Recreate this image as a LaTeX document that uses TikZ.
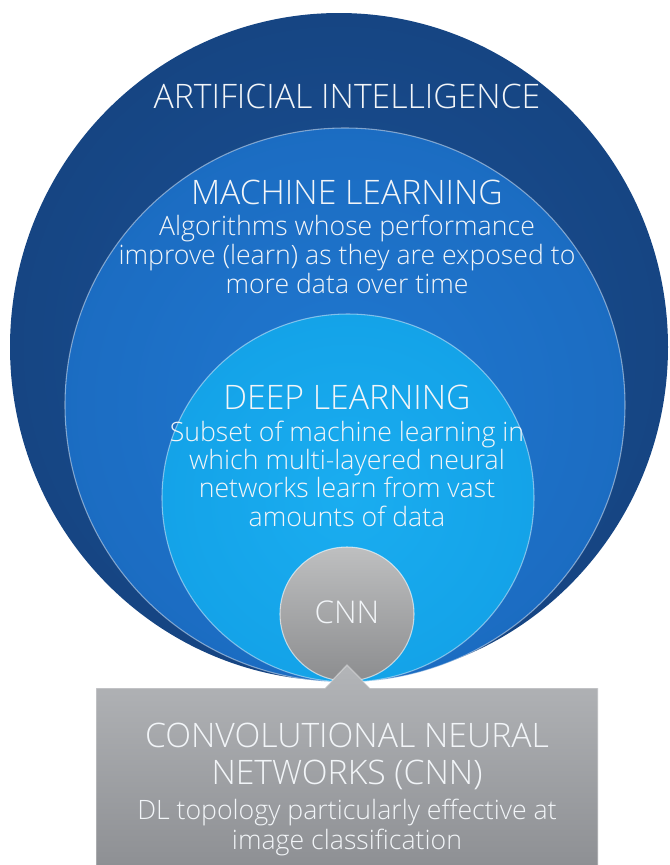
\documentclass[tikz,border=0pt]{standalone}
\usepackage{fontspec}
\setmainfont{Open Sans}[UprightFont=* Light]
\usetikzlibrary{shapes.geometric}

% palette
\definecolor{txt}{HTML}{F2F5F8}
\definecolor{aiIn}{HTML}{1B5094}
\definecolor{aiMid}{HTML}{14427E}
\definecolor{aiOut}{HTML}{0A2B5C}
\definecolor{mlIn}{HTML}{2078D0}
\definecolor{mlMid}{HTML}{1A69BE}
\definecolor{mlOut}{HTML}{0F4D98}
\definecolor{dlIn}{HTML}{1AADF0}
\definecolor{dlMid}{HTML}{12A0E6}
\definecolor{dlOut}{HTML}{0A84CC}
\definecolor{cnnTop}{HTML}{BEBFC0}
\definecolor{cnnBot}{HTML}{8C8D8F}
\definecolor{boxTop}{HTML}{B3B5B8}
\definecolor{boxBot}{HTML}{8E9094}

\pgfdeclareradialshading{aiglow}{\pgfpoint{0bp}{0bp}}{color(0bp)=(aiIn); color(32bp)=(aiMid); color(50bp)=(aiOut)}
\pgfdeclareradialshading{mlglow}{\pgfpoint{0bp}{0bp}}{color(0bp)=(mlIn); color(32bp)=(mlMid); color(50bp)=(mlOut)}
\pgfdeclareradialshading{dlglow}{\pgfpoint{0bp}{0bp}}{color(0bp)=(dlIn); color(32bp)=(dlMid); color(50bp)=(dlOut)}

\tikzset{
  title/.style={text=txt, font=\fontsize{25.3}{29}\selectfont, anchor=base, inner sep=0pt},
  body/.style={text=txt, font=\fontsize{20}{23}\selectfont, anchor=base, inner sep=0pt},
  rim/.style={draw=white, draw opacity=0.45, line width=0.8pt},
}

\begin{document}
\begin{tikzpicture}[x=0.75pt, y=-0.75pt]
\useasboundingbox (0,0) rectangle (670,865);

% nested fields, all touching at the bottom
\path[shading=aiglow] (339,347) ellipse [x radius=329, y radius=334];
\path[shading=mlglow, rim] (345,405) ellipse [x radius=280, y radius=277];
\path[shading=dlglow, rim] (348,498) ellipse [x radius=186, y radius=184];
\path[top color=cnnTop, bottom color=cnnBot, draw=white, draw opacity=0.6, line width=0.8pt]
  (347,614) circle [radius=67];

% callout panel with its pointer
\path[top color=boxTop, bottom color=boxBot]
  (96,688) -- (325,688) -- (347,665) -- (370,688) -- (598,688) -- (598,865) -- (96,865) -- cycle;
\draw[white, opacity=0.35, line width=1pt] (96,865) -- (96,688) -- (325,688) -- (347,665) -- (370,688) -- (598,688) -- (598,865);

% labels
\node[title] (aiT) at (347,108) {ARTIFICIAL INTELLIGENCE};

\node[title] (mlT) at (347,204) {MACHINE LEARNING};
\node[body] (ml1) at (347,235) {Algorithms whose performance};
\node[body] (ml2) at (347,264) {improve (learn) as they are exposed to};
\node[body] (ml3) at (347,293) {more data over time};

\node[title] (dlT) at (347,409) {DEEP LEARNING};
\node[body] (dl1) at (347,441) {Subset of machine learning in};
\node[body] (dl2) at (347,469) {which multi-layered neural};
\node[body] (dl3) at (347,497) {networks learn from vast};
\node[body] (dl4) at (347,526) {amounts of data};

\node[text=txt, font=\fontsize{23.5}{27}\selectfont, anchor=base, inner sep=0pt] (cnnT) at (347,623) {CNN};

\node[title] (bx1) at (347,747) {CONVOLUTIONAL NEURAL};
\node[title] (bx2) at (347,784) {NETWORKS (CNN)};
\node[body] (bx3) at (347,819) {DL topology particularly effective at};
\node[body] (bx4) at (347,849) {image classification};
\end{tikzpicture}
\end{document}
